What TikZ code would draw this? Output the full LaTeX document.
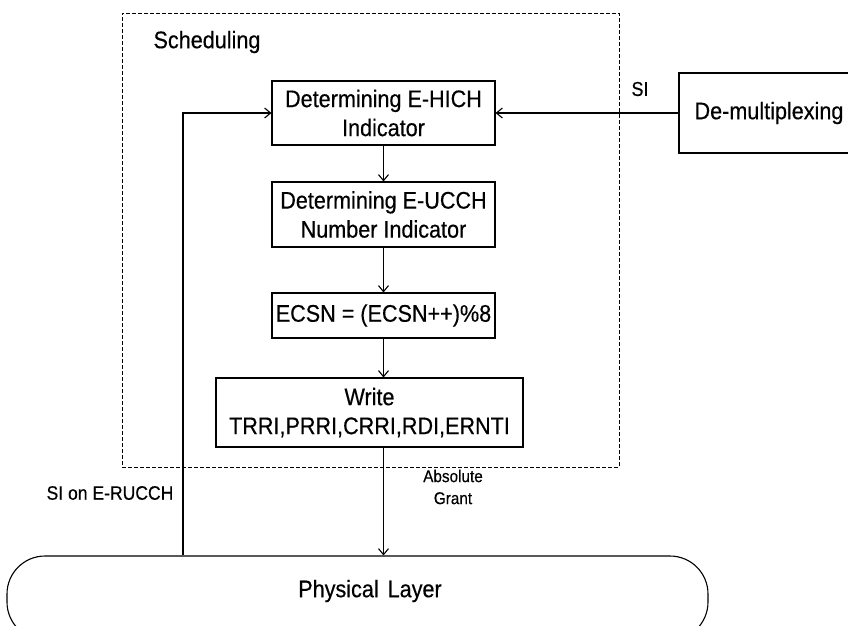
\documentclass[tikz,border=0pt]{standalone}
\usepackage{fontspec}
\setmainfont{Liberation Sans}[FakeStretch=0.9,FakeBold=0.4]
\usetikzlibrary{arrows.meta}
\begin{document}
\begin{tikzpicture}[x=1pt,y=-1pt,
  box/.style={draw, line width=1.1pt, minimum width=223pt, align=center, inner sep=0pt,
    font=\fontsize{24}{29}\selectfont},
  dashbox/.style={draw, line width=0.9pt, dash pattern=on 4pt off 2pt, inner sep=0pt},
  lbl/.style={inner sep=0pt, font=\fontsize{19.5}{23}\selectfont},
  arr/.style={line width=1.1pt, -{Straight Barb[length=6pt,width=10pt]}}]
\useasboundingbox (0,0) rectangle (848,625);
\fill[white] (0,0) rectangle (848,625);
% scheduling frame
\node[dashbox, minimum width=497pt, minimum height=454pt] (frame) at (370.5,240) {};
\node[inner sep=0pt, font=\fontsize{24}{28}\selectfont] (sched) at (207,42) {Scheduling};
% boxes
\node[box, minimum height=64pt] (hich) at (383.5,113) {Determining E-HICH\\Indicator};
\node[box, minimum height=65pt] (ucch) at (383.5,214.5) {Determining E-UCCH\\Number Indicator};
\node[box, minimum height=45pt] (ecsn) at (383.5,315.5) {ECSN = (ECSN++)\%8};
\node[box, minimum width=307pt, minimum height=69pt] (write) at (369.5,412.5) {Write\\TRRI,PRRI,CRRI,RDI,ERNTI};
\node[box, minimum width=180pt, minimum height=80pt] (demux) at (769,113) {De-multiplexing};
% physical layer
\node[draw, line width=1.1pt, rounded corners=38pt, minimum width=701pt, minimum height=84pt, inner sep=0pt] (phy) at (357.5,598) {};
\node[inner sep=0pt, font=\fontsize{24}{28}\selectfont] (phytext) at (370,591) {Physical\hspace{9pt}Layer};
% connectors
\coordinate (lx) at (183,0);
\coordinate (ax) at (383.5,0);
\draw[arr] (hich.south) -- (ucch.north);
\draw[arr] (ucch.south) -- (ecsn.north);
\draw[arr] (ecsn.south) -- (ecsn.south |- write.north);
\draw[arr] (ax |- write.south) -- (ax |- phy.north);
\draw[arr] (lx |- phy.north) |- (hich.west);
\draw[arr] (demux.west) -- (hich.east);
% labels
\node[lbl, font=\fontsize{20}{24}\selectfont] (si) at (640,89) {SI};
\node[lbl] (sirucch) at (110,493) {SI on E-RUCCH};
\node[lbl, align=center, font=\fontsize{17}{22}\selectfont] (ag) at (453,487) {Absolute\\Grant};
\end{tikzpicture}
\end{document}
